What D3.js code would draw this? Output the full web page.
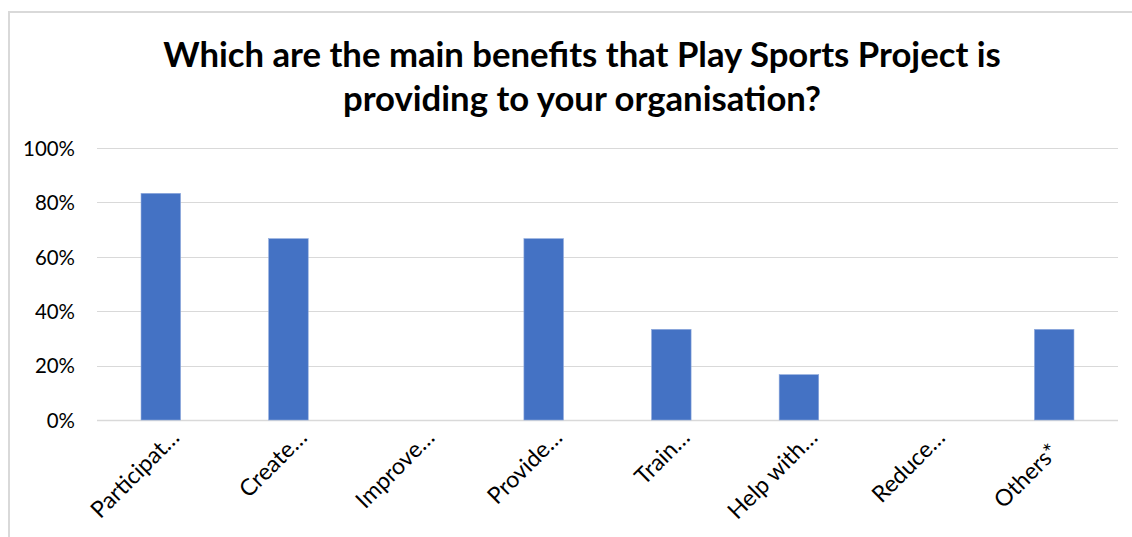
<!DOCTYPE html>
<html>
<head>
<meta charset="utf-8">
<script src="https://cdn.jsdelivr.net/npm/d3@7"></script>
<style>
  html, body { margin: 0; padding: 0; background: #fff; }
  svg { display: block; }
</style>
</head>
<body>
<script>
// Survey answers: share of organisations naming each benefit
const categories = ["Participat…", "Create…", "Improve…", "Provide…", "Train…", "Help with…", "Reduce…", "Others*"];
const shares = [0.8333, 0.6667, 0, 0.6667, 0.3333, 0.1667, 0, 0.3333];
const yTicks = [0, 0.2, 0.4, 0.6, 0.8, 1.0];
const titleLines = ["Which are the main benefits that Play Sports Project is", "providing to your organisation?"];

const W = 1132, H = 537;
const margin = { left: 97, right: 14, top: 148, bottom: 117 };
const fontFamily = "Lato, 'Open Sans', sans-serif";

const svg = d3.select("body").append("svg").attr("width", W).attr("height", H);

// size a text element so that its rendered length equals the given width
function fitWidth(sel, target) {
  const len = sel.node().getComputedTextLength();
  const fs = parseFloat(sel.attr("font-size"));
  sel.attr("font-size", (fs * target / len).toFixed(2));
}

// chart frame
svg.append("rect")
  .attr("x", 9).attr("y", 12).attr("width", W + 10).attr("height", H + 10)
  .attr("fill", "#fff").attr("stroke", "#d9d9d9").attr("stroke-width", 2);

const x = d3.scaleBand().domain(categories).range([margin.left, W - margin.right]).paddingInner(0.69).paddingOuter(0.345);
const y = d3.scaleLinear().domain([0, 1]).range([H - margin.bottom, margin.top]);

// title
const title = svg.append("g").selectAll("text").data(titleLines).join("text")
  .attr("x", 582).attr("y", (d, i) => 67 + i * 44)
  .attr("text-anchor", "middle")
  .attr("font-family", fontFamily).attr("font-weight", "bold").attr("font-size", 30)
  .attr("fill", "#000").text(d => d);
const titleFirst = d3.select(title.nodes()[0]);
fitWidth(titleFirst, 838);
title.attr("font-size", titleFirst.attr("font-size"));

// gridlines
svg.append("g").selectAll("line").data(yTicks).join("line")
  .attr("x1", margin.left).attr("x2", W - margin.right)
  .attr("y1", d => Math.round(y(d)) + 0.5).attr("y2", d => Math.round(y(d)) + 0.5)
  .attr("stroke", "#d9d9d9").attr("stroke-width", d => d === 0 ? 1.5 : 1);

// y axis labels
const yAxis = d3.axisLeft(y).tickValues(yTicks).tickFormat(d3.format(".0%")).tickSize(0).tickPadding(0);
const gy = svg.append("g").attr("transform", `translate(75,0)`).call(yAxis);
gy.select(".domain").remove();
gy.selectAll("text").attr("font-family", fontFamily).attr("font-size", 18).attr("fill", "#000").attr("dy", "0.36em");
const yTopLabel = gy.selectAll("text").filter(d => d === 1);
fitWidth(yTopLabel, 52);
gy.selectAll("text").attr("font-size", yTopLabel.attr("font-size"));

// bars
svg.append("g").selectAll("rect").data(categories).join("rect")
  .attr("x", d => x(d)).attr("width", x.bandwidth())
  .attr("y", (d, i) => y(shares[i]))
  .attr("height", (d, i) => y(0) - y(shares[i]))
  .attr("fill", "#4472c4").attr("stroke", "#8faadc").attr("stroke-width", 0.6);

// category labels at -45°: truncated ones end at the slot's end, full ones sit centred in the slot
const slot = 120, endX = 20, endY = 19, half = slot / 2 * Math.SQRT1_2;
const xAxis = d3.axisBottom(x).tickSize(0).tickPadding(0);
const gx = svg.append("g").attr("transform", `translate(0,${y(0)})`).call(xAxis);
gx.select(".domain").remove();
gx.selectAll("text")
  .attr("font-family", fontFamily).attr("font-size", 18).attr("fill", "#000")
  .attr("dy", null).attr("y", 0)
  .attr("text-anchor", d => d.endsWith("…") ? "end" : "middle")
  .attr("transform", d => d.endsWith("…")
    ? `translate(${endX},${endY}) rotate(-45)`
    : `translate(${endX - half},${endY + half}) rotate(-45)`);
const xFirstLabel = gx.selectAll("text").filter(d => d === categories[0]);
fitWidth(xFirstLabel, 114);
gx.selectAll("text").attr("font-size", xFirstLabel.attr("font-size"));
</script>
</body>
</html>
